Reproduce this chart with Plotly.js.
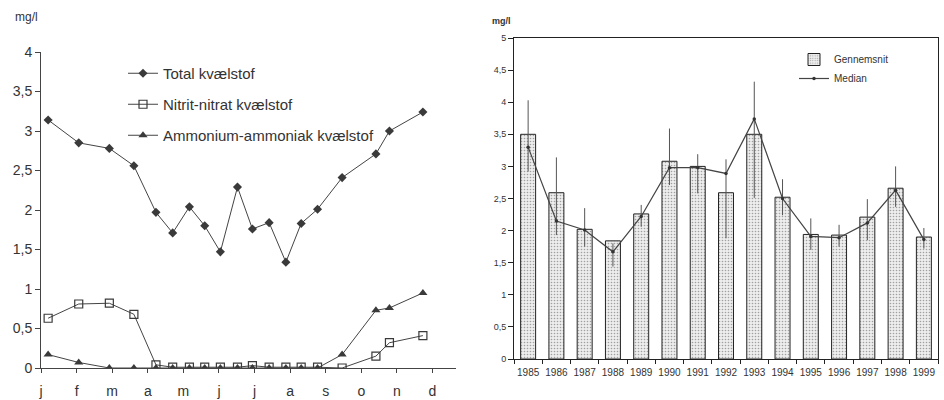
<!DOCTYPE html>
<html>
<head>
<meta charset="utf-8">
<script src="https://cdn.plot.ly/plotly-3.0.1.min.js"></script>
<style>html,body{margin:0;padding:0;background:#fff;}#chart{width:944px;height:400px;}</style>
</head>
<body>
<div id="chart"></div>
<script>
// Left chart: monthly samples (x in months from 1 Jan)
const monthLabels = ['j','f','m','a','m','j','j','a','s','o','n','d'];
const sampleMonth = [0.20,1.06,1.92,2.61,3.23,3.70,4.17,4.60,5.04,5.52,5.94,6.41,6.88,7.31,7.77,8.46,9.41,9.79,10.73];
const totalN = [3.14,2.85,2.78,2.56,1.97,1.71,2.04,1.80,1.47,2.29,1.76,1.84,1.34,1.83,2.01,2.41,2.71,3.00,3.24];
const nitritN = [0.63,0.81,0.82,0.68,0.04,0.01,0.01,0.01,0.01,0.01,0.03,0.01,0.01,0.01,0.01,0.00,0.15,0.32,0.41];
const ammoniumN = [0.17,0.07,0.00,0.00,0.00,0.00,0.00,0.00,0.00,0.00,0.00,0.00,0.00,0.00,0.00,0.17,0.73,0.76,0.95];

// Right chart: yearly values
const years = ['1985','1986','1987','1988','1989','1990','1991','1992','1993','1994','1995','1996','1997','1998','1999'];
const meanVals = [3.50,2.59,2.02,1.84,2.26,3.08,3.00,2.59,3.50,2.52,1.94,1.93,2.21,2.66,1.90];
const medianVals = [3.30,2.15,2.01,1.67,2.22,2.98,2.98,2.89,3.74,2.50,1.91,1.89,2.12,2.63,1.86];
const highVals = [4.03,3.14,2.35,1.80,2.40,3.59,3.19,3.11,4.32,2.80,2.19,2.09,2.49,3.00,2.04];
const lowVals = [2.92,1.93,1.75,1.44,2.06,2.71,2.58,1.88,2.51,2.24,1.70,1.75,1.85,2.37,1.72];

const ink = '#333';
const lineCol = '#444';
const W = 944, H = 400;

const traces = [
  {x: sampleMonth, y: totalN, name: 'Total kvælstof', type: 'scatter', mode: 'lines+markers',
   xaxis: 'x', yaxis: 'y', legend: 'legend', legendgroup: 'a',
   line: {color: lineCol, width: 1}, marker: {symbol: 'diamond', size: 7, color: '#3a3a3a'}},
  {x: sampleMonth, y: nitritN, name: 'Nitrit-nitrat kvælstof', type: 'scatter', mode: 'lines+markers',
   xaxis: 'x', yaxis: 'y', legend: 'legend', legendgroup: 'b',
   line: {color: lineCol, width: 1}, marker: {symbol: 'square-open', size: 8, color: '#3a3a3a', line: {width: 1.2}}},
  {x: sampleMonth, y: ammoniumN, name: 'Ammonium-ammoniak kvælstof', type: 'scatter', mode: 'lines+markers',
   xaxis: 'x', yaxis: 'y', legend: 'legend', legendgroup: 'c',
   line: {color: lineCol, width: 1}, marker: {symbol: 'triangle-up', size: 8, color: '#3a3a3a'}},
  {x: years, y: meanVals, name: 'Gennemsnit', type: 'bar', xaxis: 'x2', yaxis: 'y2', legend: 'legend2',
   width: 0.53,
   marker: {color: '#ececec', line: {color: '#222', width: 1},
            pattern: {shape: '.', fgcolor: '#a0a0a0', bgcolor: '#ededed', size: 3, solidity: 0.22}}},
  {x: years, y: medianVals, name: 'Median', type: 'scatter', mode: 'lines+markers', xaxis: 'x2', yaxis: 'y2', legend: 'legend2',
   line: {color: lineCol, width: 1.2}, marker: {size: 3.5, color: '#333'},
   error_y: {type: 'data', symmetric: false,
             array: highVals.map((h, i) => h - medianVals[i]),
             arrayminus: lowVals.map((l, i) => medianVals[i] - l),
             width: 0, thickness: 1, color: '#555'}}
];

const layout = {
  width: W, height: H,
  margin: {l: 0, r: 0, t: 0, b: 0},
  paper_bgcolor: '#fff', plot_bgcolor: 'rgba(0,0,0,0)',
  separators: ', ',
  font: {family: 'Liberation Sans, Arial, sans-serif', color: ink},
  bargap: 0.47,
  xaxis: {domain: [41/W, 456/W], range: [0, 11.66], tickvals: [0,1,2,3,4,5,6,7,8,9,10,11], ticktext: monthLabels,
          showgrid: false, zeroline: false, showline: true, linecolor: lineCol, linewidth: 1,
          ticks: 'outside', ticklen: 4, tickcolor: lineCol, ticklabelstandoff: 6,
          tickfont: {size: 14, color: ink}, anchor: 'y'},
  yaxis: {domain: [(H-368)/H, (H-52)/H], range: [0, 4], dtick: 0.5, showgrid: false, zeroline: false,
          showline: true, linecolor: lineCol, linewidth: 1, ticks: 'outside', ticklen: 5, tickcolor: lineCol,
          tickfont: {size: 14, color: ink}, anchor: 'x'},
  xaxis2: {domain: [514/W, 938/W], range: [-0.5, 14.5], type: 'category', showgrid: false, zeroline: false,
           showline: true, mirror: true, linecolor: '#222', linewidth: 1, ticks: 'outside', tickson: 'boundaries',
           ticklen: 4, tickcolor: '#222', tickangle: 0, ticklabelstandoff: 4,
           tickfont: {size: 10, color: ink}, anchor: 'y2'},
  yaxis2: {domain: [(H-359)/H, (H-38)/H], range: [0, 5], dtick: 0.5, showgrid: false, zeroline: false,
           showline: true, mirror: true, linecolor: '#222', linewidth: 1, ticks: 'outside', ticklen: 5, tickcolor: '#222',
           tickfont: {size: 9, color: ink}, anchor: 'x2'},
  legend: {x: 123/W, y: 1 - 57/H, xanchor: 'left', yanchor: 'top', bgcolor: 'rgba(0,0,0,0)',
           font: {size: 15, color: ink}, traceorder: 'grouped', tracegroupgap: 8.5, itemwidth: 30},
  legend2: {x: 794/W, y: 1 - 45/H, xanchor: 'left', yanchor: 'top', bgcolor: 'rgba(0,0,0,0)',
            font: {size: 10, color: ink}, itemwidth: 30, tracegroupgap: 0},
  annotations: [
    {text: 'mg/l', xref: 'paper', yref: 'paper', x: 13/W, y: 1 - 17/H, xanchor: 'left', yanchor: 'middle',
     showarrow: false, font: {size: 12, color: ink}},
    {text: '<b>mg/l</b>', xref: 'paper', yref: 'paper', x: 490/W, y: 1 - 21/H, xanchor: 'left', yanchor: 'middle',
     showarrow: false, font: {size: 9, color: ink}}
  ],
  showlegend: true
};

Plotly.newPlot('chart', traces, layout, {displayModeBar: false, staticPlot: true});
</script>
</body>
</html>
